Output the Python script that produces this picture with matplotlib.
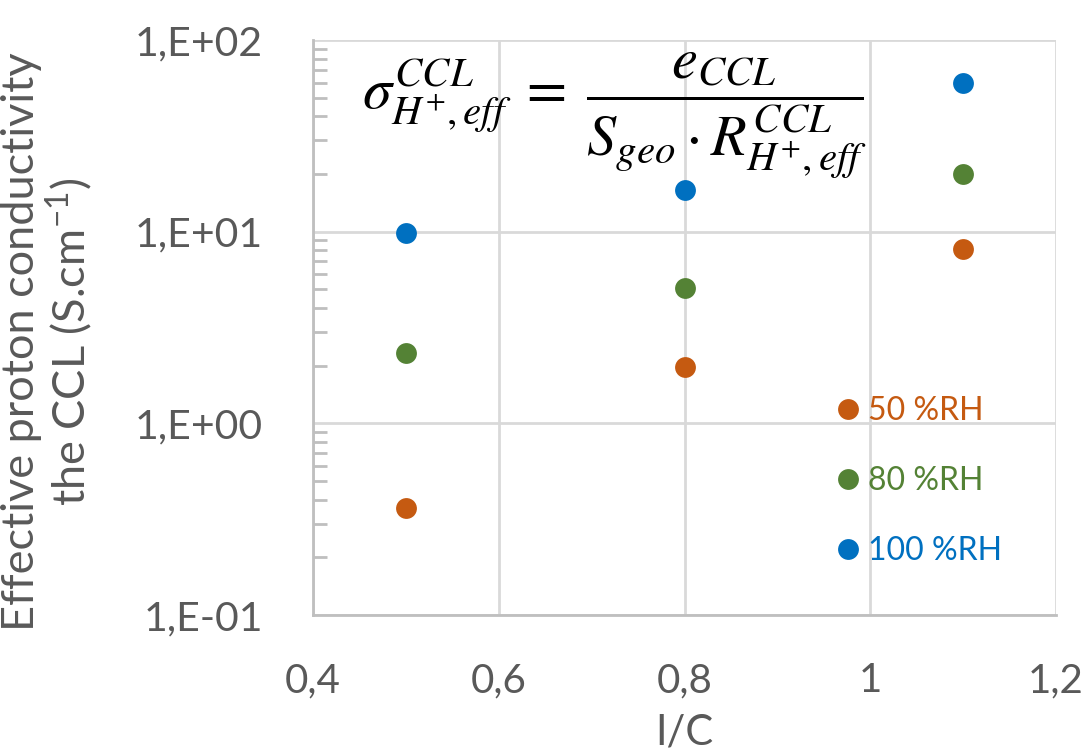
import matplotlib
matplotlib.use("Agg")
import matplotlib.pyplot as plt
from matplotlib.ticker import FixedLocator, LogLocator, NullFormatter

plt.rcParams['font.family'] = ['Lato', 'DejaVu Sans']
plt.rcParams['mathtext.fontset'] = 'stix'

x_ic = [0.5, 0.8, 1.1]
rh_labels = ['50 %RH', '80 %RH', '100 %RH']
sigma_50 = [0.36, 1.96, 8.1]
sigma_80 = [2.32, 5.1, 20.0]
sigma_100 = [9.9, 16.4, 60.0]
colors = ['#C55A11', '#548235', '#0070C0']
x_ticks = [0.4, 0.6, 0.8, 1.0, 1.2]
x_tick_labels = ['0,4', '0,6', '0,8', '1', '1,2']
y_ticks = [0.1, 1, 10, 100]
y_tick_labels = ['1,E-01', '1,E+00', '1,E+01', '1,E+02']

fig = plt.figure(figsize=(10.89, 7.56), dpi=100)
ax = fig.add_axes([313/1089, 1-615/756, (1056-313)/1089, (615-40)/756])

for vals, lab, c in zip([sigma_50, sigma_80, sigma_100], rh_labels, colors):
    ax.plot(x_ic, vals, linestyle='none', marker='o', markersize=15,
            color=c, markeredgewidth=0, label=lab, zorder=3)

ax.set_yscale('log')
ax.set_xlim(0.4, 1.2)
ax.set_ylim(0.1, 100)
ax.xaxis.set_major_locator(FixedLocator(x_ticks))
ax.set_xticklabels(x_tick_labels)
ax.yaxis.set_major_locator(FixedLocator(y_ticks))
ax.set_yticklabels(y_tick_labels)
ax.yaxis.set_minor_locator(LogLocator(base=10, subs=range(2, 10)))
ax.yaxis.set_minor_formatter(NullFormatter())

grid_c = '#D9D9D9'
ax.grid(True, which='major', color=grid_c, linewidth=2)
for s in ['top', 'right']:
    ax.spines[s].set_visible(False)
for s in ['left', 'bottom']:
    ax.spines[s].set_color('#BFBFBF')
    ax.spines[s].set_linewidth(2)
ax.tick_params(axis='both', which='major', length=0, labelcolor='#595959')
ax.tick_params(axis='x', which='major', labelsize=29, pad=34)
ax.tick_params(axis='y', which='major', labelsize=29.5, pad=36)
ax.tick_params(axis='y', which='minor', direction='in', length=10, width=2, color='#BFBFBF')
ax.set_axisbelow(True)

ax.set_xlabel('I/C', fontsize=30, color='#595959', labelpad=10)
fig.text(48/1089, 1-342/756, 'Effective proton conductivity\nthe CCL (S.cm$^{\\mathregular{-1}}$)',
         fontsize=32.5, color='#595959', rotation=90, ha='center', va='center',
         linespacing=1.02, multialignment='center')

leg = ax.legend(loc='center left', bbox_to_anchor=(0.683, 0.233), frameon=False,
                fontsize=23, handlelength=0.7, handletextpad=0.3, labelspacing=1.25,
                borderpad=0, labelcolor='linecolor', markerscale=1.0)

fig.text(614/1089, 1-116/756, r'$\sigma_{H^{+},eff}^{CCL}\;=\;\dfrac{e_{CCL}}{S_{geo}\cdot R_{H^{+},eff}^{CCL}}$',
         fontsize=42, ha='center', va='center', color='black')

fig.savefig('out.png', dpi=100)
